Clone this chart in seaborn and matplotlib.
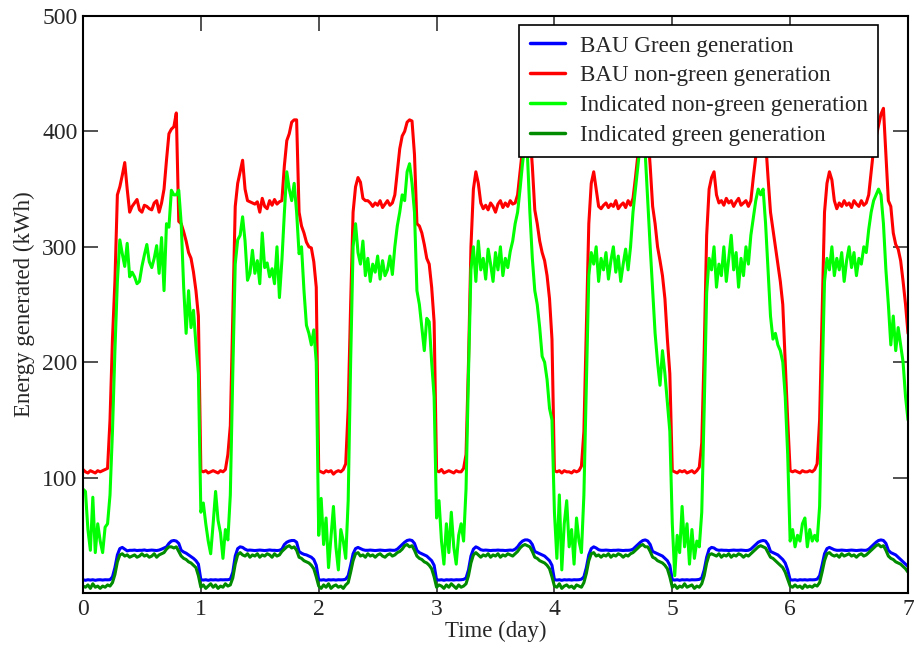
import numpy as np
import pandas as pd
import matplotlib
matplotlib.use("Agg")
import matplotlib.pyplot as plt
import seaborn as sns

# Half-hourly energy generation over one week (48 samples per day, plus the closing sample at day 7)

# BAU non-green generation (kWh)
bau_nongreen = (
    [107, 105, 104, 106, 105, 104, 106, 105, 106, 107, 108, 150, 220, 270, 345, 352, 362, 373, 350, 330, 335, 338, 341, 332,
     330, 336, 335, 333, 332, 338, 340, 330, 338, 350, 375, 398, 402, 404, 416, 322, 320, 313, 305, 295, 290, 278, 262, 240]
    + [106, 105, 106, 104, 105, 106, 105, 104, 106, 105, 107, 120, 145, 240, 335, 355, 365, 375, 350, 340, 339, 338, 337, 339,
       330, 342, 335, 333, 340, 336, 341, 337, 339, 340, 370, 392, 398, 408, 410, 410, 330, 318, 312, 304, 300, 299, 287, 265]
    + [106, 105, 104, 106, 105, 106, 103, 105, 106, 105, 107, 112, 160, 250, 330, 352, 360, 356, 342, 340, 340, 338, 335, 338,
       336, 340, 334, 337, 340, 336, 338, 345, 365, 385, 396, 400, 408, 410, 409, 380, 320, 318, 312, 302, 290, 285, 265, 235]
    + [106, 105, 107, 104, 105, 106, 105, 104, 106, 105, 105, 108, 120, 200, 300, 350, 365, 355, 338, 333, 336, 332, 338, 335,
       330, 337, 340, 334, 338, 335, 340, 337, 338, 345, 365, 385, 398, 405, 400, 370, 332, 320, 305, 295, 288, 275, 255, 220]
    + [106, 105, 106, 104, 106, 105, 105, 104, 106, 105, 106, 110, 140, 230, 320, 355, 365, 350, 335, 333, 336, 338, 334, 337,
       335, 340, 333, 336, 338, 334, 340, 336, 342, 360, 380, 395, 400, 405, 400, 370, 335, 320, 300, 288, 275, 255, 220, 190]
    + [106, 105, 104, 106, 105, 106, 104, 105, 106, 104, 106, 109, 130, 210, 310, 350, 360, 365, 345, 338, 340, 336, 342, 338,
       340, 335, 339, 342, 336, 338, 340, 335, 340, 360, 378, 390, 395, 398, 392, 360, 330, 315, 300, 285, 270, 250, 200, 150]
    + [106, 105, 106, 105, 104, 106, 105, 105, 106, 105, 107, 112, 150, 240, 330, 355, 365, 358, 340, 333, 338, 335, 340, 336,
       338, 334, 340, 337, 335, 340, 336, 338, 345, 365, 385, 395, 405, 415, 420, 380, 340, 335, 312, 302, 298, 288, 270, 250]
    + [225]
)

# Indicated non-green generation (kWh)
ind_nongreen = (
    [90, 88, 55, 37, 83, 35, 60, 45, 35, 57, 60, 85, 140, 210, 270, 306, 294, 283, 303, 274, 278, 274, 268, 270,
     283, 293, 302, 287, 282, 290, 301, 277, 308, 262, 320, 317, 349, 345, 345, 349, 320, 265, 225, 262, 230, 245, 215, 190]
    + [70, 78, 60, 45, 34, 60, 88, 63, 52, 30, 55, 46, 85, 190, 285, 306, 310, 326, 305, 271, 277, 297, 277, 288,
       268, 312, 282, 286, 274, 281, 268, 300, 256, 288, 329, 365, 350, 340, 355, 330, 294, 300, 262, 232, 225, 215, 228, 200]
    + [50, 82, 42, 65, 22, 48, 75, 40, 20, 55, 45, 30, 80, 200, 300, 320, 295, 285, 305, 275, 290, 270, 285, 278,
       292, 272, 288, 275, 280, 292, 276, 300, 318, 330, 345, 340, 365, 372, 355, 330, 262, 250, 230, 210, 238, 235, 200, 170]
    + [65, 80, 45, 25, 60, 35, 70, 40, 25, 50, 60, 45, 90, 190, 280, 300, 270, 305, 280, 290, 272, 298, 285, 270,
       295, 280, 300, 275, 290, 282, 296, 305, 320, 330, 350, 372, 390, 380, 330, 290, 262, 250, 230, 205, 200, 185, 160, 150]
    + [70, 30, 85, 20, 60, 80, 40, 55, 25, 65, 45, 35, 85, 180, 275, 295, 285, 300, 270, 290, 280, 295, 272, 288,
       300, 278, 292, 270, 285, 298, 280, 300, 330, 350, 370, 390, 400, 380, 340, 300, 262, 225, 200, 180, 210, 190, 165, 140]
    + [60, 15, 50, 35, 75, 40, 60, 25, 55, 30, 45, 40, 70, 160, 260, 290, 280, 300, 265, 285, 275, 300, 270, 290,
       310, 280, 295, 265, 290, 275, 300, 285, 310, 325, 340, 350, 345, 350, 320, 280, 240, 220, 225, 215, 210, 200, 170, 120]
    + [45, 55, 40, 50, 45, 60, 65, 40, 55, 45, 50, 45, 75, 180, 270, 290, 280, 300, 275, 290, 280, 295, 270, 288,
       300, 282, 295, 275, 290, 285, 300, 295, 315, 330, 340, 345, 350, 345, 320, 280, 250, 215, 240, 210, 230, 215, 200, 170]
    + [150]
)

# BAU green generation (kWh)
bau_green = (
    [11.5, 11.0, 11.5, 11.2, 11.5, 11.0, 11.4, 11.5, 11.2, 11.5, 11.4, 11.5, 14, 22, 33, 38.5, 39.5, 38, 36.5, 37, 37, 37.2, 36.8, 37,
     37, 37.3, 36.8, 37, 37.2, 37, 36.8, 37.2, 38, 39, 40, 43, 45, 45.5, 45, 43, 37, 35.5, 34.5, 33, 31.5, 30, 28, 25]
    + [11.5, 11.2, 11.5, 11.0, 11.5, 11.3, 11.5, 11.2, 11.5, 11.4, 11.5, 11.5, 12, 18, 32, 38.5, 40, 39.5, 38, 37, 37.2, 37, 36.8, 37,
       37.2, 37, 36.8, 37, 37.3, 37, 37, 36.8, 37, 38, 42, 44, 45, 45.5, 45.5, 44, 36, 34.5, 33.5, 33, 32, 31, 29, 24]
    + [11.5, 11.2, 11.5, 11.0, 11.5, 11.3, 11.5, 11.2, 11.5, 11.4, 11.5, 12, 15, 24, 34, 38.5, 39.5, 38.5, 37.5, 37, 37, 37.2, 37, 36.8,
       37, 37.2, 37, 36.8, 37, 37.2, 37, 37, 38, 40, 42, 44, 45.5, 46, 45.5, 43, 37, 35, 34, 33, 32, 30, 28, 24]
    + [11.5, 11.2, 11.5, 11.0, 11.5, 11.3, 11.5, 11.2, 11.5, 11.4, 11.5, 11.8, 13, 20, 32, 38, 40, 39, 37.5, 37, 37.2, 37, 36.8, 37,
       37, 37.2, 37, 37, 36.8, 37, 37.2, 37, 38, 40, 43, 45, 46, 46, 45, 42, 36, 35, 34, 33, 32, 30, 28, 24]
    + [11.5, 11.2, 11.5, 11.0, 11.5, 11.3, 11.5, 11.2, 11.5, 11.4, 11.5, 12, 14, 22, 33, 38.5, 40, 39, 37.5, 37, 37, 37.2, 37, 36.8,
       37, 37, 37.2, 37, 36.8, 37, 37, 37.2, 38, 40, 42, 44, 45.5, 46, 45, 42, 36, 35, 34, 33, 32, 30, 28, 24]
    + [11.5, 11.2, 11.5, 11.0, 11.5, 11.3, 11.5, 11.2, 11.5, 11.4, 11.5, 11.8, 13, 20, 31, 38, 39.5, 39, 37.5, 37, 37.2, 37, 37, 36.8,
       37, 37.2, 37, 37, 37.2, 37, 36.8, 37, 38, 40, 42, 44, 45, 45.5, 45, 42, 36, 35, 34, 33, 31, 29, 26, 20]
    + [11.5, 11.2, 11.5, 11.0, 11.5, 11.3, 11.5, 11.2, 11.5, 11.4, 11.5, 12, 15, 24, 34, 38.5, 39.5, 38.5, 37.5, 37, 37, 37.2, 37, 36.8,
       37, 37.2, 37, 36.8, 37, 37.2, 37, 37, 38, 40, 42, 44, 45.5, 46, 45.5, 43, 37, 35, 34, 33, 31, 29, 27, 25]
    + [23]
)

# Indicated green generation (kWh)
ind_green = (
    [6, 5, 7, 4, 8, 5, 6, 4, 6, 5, 7, 6, 9, 16, 27, 33, 34, 32, 33, 31, 32, 33, 31, 32,
     34, 32, 33, 31, 32, 34, 31, 33, 34, 35, 38, 40, 40, 39, 40, 36, 32, 30, 29, 27, 26, 24, 22, 15]
    + [5, 7, 4, 6, 8, 5, 7, 4, 6, 5, 8, 6, 7, 13, 25, 33, 35, 33, 32, 34, 31, 33, 32, 34,
       31, 33, 32, 34, 33, 31, 34, 32, 33, 36, 38, 40, 41, 39, 40, 37, 31, 30, 28, 27, 26, 24, 21, 14]
    + [6, 4, 7, 5, 8, 4, 6, 7, 5, 6, 4, 7, 9, 18, 28, 34, 35, 32, 33, 31, 34, 32, 33, 31,
       33, 34, 32, 31, 33, 34, 32, 33, 35, 36, 38, 41, 42, 40, 41, 37, 32, 30, 29, 27, 26, 24, 21, 14]
    + [5, 7, 6, 4, 7, 5, 8, 6, 4, 7, 5, 6, 8, 15, 26, 33, 35, 33, 31, 33, 32, 34, 31, 33,
       32, 34, 31, 33, 32, 34, 33, 32, 34, 36, 39, 41, 42, 41, 40, 36, 31, 30, 28, 27, 26, 24, 21, 14]
    + [6, 5, 8, 4, 6, 7, 5, 6, 4, 7, 6, 5, 9, 17, 28, 34, 35, 32, 33, 31, 33, 32, 34, 31,
       33, 32, 34, 33, 31, 33, 32, 34, 35, 37, 39, 41, 42, 40, 40, 36, 31, 30, 28, 27, 26, 24, 21, 14]
    + [5, 7, 4, 6, 5, 8, 5, 6, 7, 4, 6, 5, 8, 15, 26, 33, 34, 33, 32, 34, 31, 33, 32, 34,
       31, 33, 32, 34, 33, 31, 33, 32, 34, 36, 38, 40, 41, 40, 39, 35, 31, 30, 28, 26, 24, 22, 18, 12]
    + [6, 5, 7, 5, 6, 4, 7, 5, 6, 5, 7, 6, 9, 18, 28, 34, 35, 33, 32, 33, 31, 34, 32, 33,
       34, 32, 33, 31, 33, 34, 32, 33, 35, 37, 39, 41, 42, 40, 41, 37, 32, 30, 29, 27, 26, 25, 23, 21]
    + [18]
)

series_names = [
    "BAU Green generation",
    "BAU non-green generation",
    "Indicated non-green generation",
    "Indicated green generation",
]
series_colors = ["#0000ff", "#ff0000", "#00ff00", "#008b00"]
x_ticks = [0, 1, 2, 3, 4, 5, 6, 7]
y_ticks = [100, 200, 300, 400, 500]

time_day = np.arange(len(bau_nongreen)) / 48.0
df = pd.concat(
    [
        pd.DataFrame({"time": time_day, "energy": vals, "series": name})
        for name, vals in zip(series_names, [bau_green, bau_nongreen, ind_nongreen, ind_green])
    ],
    ignore_index=True,
)

sns.set_style("ticks")
plt.rcParams["font.family"] = ["Liberation Serif", "DejaVu Serif"]

fig = plt.figure(figsize=(9.14, 6.51), dpi=100)
ax = fig.add_axes([83 / 914, 1 - 593 / 651, 825 / 914, 577 / 651])

sns.lineplot(
    data=df, x="time", y="energy", hue="series", hue_order=series_names,
    palette=dict(zip(series_names, series_colors)), linewidth=2.2, ax=ax,
    estimator=None, sort=False,
)

ax.set_xlim(0, 7)
ax.set_ylim(0, 500)
ax.set_xticks(x_ticks)
ax.set_yticks(y_ticks)
ax.set_xlabel("Time (day)", fontsize=16.5, labelpad=1)
ax.set_ylabel("Energy generated (kWh)", fontsize=16.5, labelpad=5)
ax.tick_params(direction="in", length=11, width=1.2, labelsize=17, top=True, right=True,
               color="#333333", pad=4)
for sp in ax.spines.values():
    sp.set_visible(True)
    sp.set_linewidth(1.5)
    sp.set_color("black")

leg = ax.legend(
    loc="upper right", bbox_to_anchor=(0.9636, 0.9844), borderaxespad=0,
    fontsize=16.6, frameon=True, fancybox=False, handlelength=1.52, handletextpad=0.65,
    labelspacing=0.38, borderpad=0.45,
)
leg.get_frame().set_edgecolor("black")
leg.get_frame().set_linewidth(1.2)
leg.get_frame().set_alpha(1)
for h in leg.get_lines():
    h.set_linewidth(2.5)

fig.savefig("out.png", dpi=100)
